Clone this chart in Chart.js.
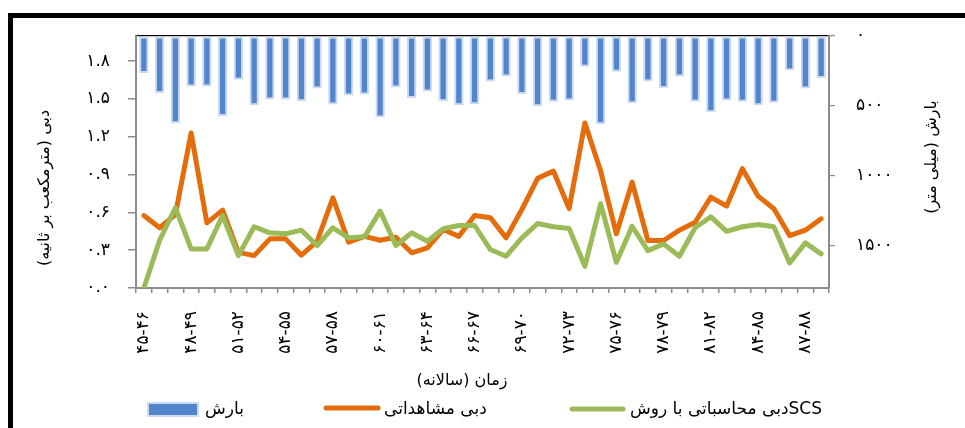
<!DOCTYPE html>
<html><head><meta charset="utf-8">
<script src="https://cdn.jsdelivr.net/npm/chart.js@4.4.0/dist/chart.umd.min.js"></script>
<style>html,body{margin:0;padding:0;background:#fff;overflow:hidden}#wrap{position:relative;width:965px;height:428px}</style>
</head><body><div id="wrap"><canvas id="c" width="965" height="428"></canvas></div>
<script>
const categories = ['۴۵-۴۶','۴۶-۴۷','۴۷-۴۸','۴۸-۴۹','۴۹-۵۰','۵۰-۵۱','۵۱-۵۲','۵۲-۵۳','۵۳-۵۴','۵۴-۵۵','۵۵-۵۶','۵۶-۵۷','۵۷-۵۸','۵۸-۵۹','۵۹-۶۰','۶۰-۶۱','۶۱-۶۲','۶۲-۶۳','۶۳-۶۴','۶۴-۶۵','۶۵-۶۶','۶۶-۶۷','۶۷-۶۸','۶۸-۶۹','۶۹-۷۰','۷۰-۷۱','۷۱-۷۲','۷۲-۷۳','۷۳-۷۴','۷۴-۷۵','۷۵-۷۶','۷۶-۷۷','۷۷-۷۸','۷۸-۷۹','۷۹-۸۰','۸۰-۸۱','۸۱-۸۲','۸۲-۸۳','۸۳-۸۴','۸۴-۸۵','۸۵-۸۶','۸۶-۸۷','۸۷-۸۸','۸۸-۸۹'];
const precipitation = [265,407,623,360,360,572,313,495,453,453,466,375,490,425,417,583,368,442,396,466,495,488,325,290,414,502,470,460,219,630,255,481,325,371,290,470,544,460,470,495,477,247,375,300];
const observedFlow = [0.575,0.478,0.583,1.23,0.517,0.618,0.283,0.257,0.39,0.39,0.26,0.371,0.716,0.363,0.41,0.379,0.403,0.279,0.318,0.464,0.41,0.575,0.557,0.398,0.623,0.87,0.928,0.631,1.31,0.928,0.43,0.84,0.377,0.377,0.459,0.522,0.721,0.65,0.947,0.729,0.629,0.416,0.459,0.549];
const scsFlow = [0.0,0.379,0.637,0.31,0.31,0.575,0.257,0.486,0.438,0.43,0.459,0.337,0.478,0.398,0.406,0.61,0.337,0.438,0.371,0.47,0.496,0.496,0.305,0.252,0.398,0.512,0.486,0.472,0.172,0.669,0.204,0.49,0.297,0.35,0.252,0.478,0.565,0.45,0.486,0.504,0.486,0.199,0.358,0.271];
const leftTickValues = [0, 0.3, 0.6, 0.9, 1.2, 1.5, 1.8];
const leftTickLabels = ['۰.۰','۰.۳','۰.۶','۰.۹','۱.۲','۱.۵','۱.۸'];
const rightTickValues = [0, 500, 1000, 1500];
const rightTickLabels = ['۰','۵۰۰','۱۰۰۰','۱۵۰۰'];
const seriesNames = ['بارش','دبی مشاهداتی','دبی محاسباتی با روشSCS'];
const titleLeft = 'دبی (مترمکعب بر ثانیه)';
const titleRight = 'بارش (میلی متر)';
const titleX = 'زمان (سالانه)';

const FONT = 'DejaVu Sans';
const ORANGE = '#E46C0A', GREEN = '#9BBB59', BLUE = '#5385CC', BLUE_HALO = '#CCDAF0', AXIS = '#8c8c8c';

const decor = {
  id: 'decor',
  beforeDraw(chart) {
    const c = chart.ctx;
    c.save(); c.fillStyle = '#fff'; c.fillRect(0, 0, chart.width, chart.height); c.restore();
  },
  afterDraw(chart) {
    const c = chart.ctx;
    c.save();
    c.fillStyle = '#000';
    c.fillRect(8, 13, 957, 5);
    c.fillRect(8, 13, 5, 415);
    c.textBaseline = 'middle';
    c.font = '16px "' + FONT + '"';
    c.direction = 'rtl';
    c.textAlign = 'center';
    c.save(); c.translate(45, 188); c.rotate(-Math.PI / 2); c.fillText(titleLeft, 0, 0); c.restore();
    c.save(); c.translate(932, 157); c.rotate(-Math.PI / 2); c.fillText(titleRight, 0, 0); c.restore();
    c.fillText(titleX, 462, 381);
    c.direction = 'ltr';
    c.textAlign = 'left';
    c.font = '17px "' + FONT + '"';
    c.fillStyle = BLUE; c.fillRect(148, 403, 50, 13);
    c.strokeStyle = BLUE_HALO; c.lineWidth = 2; c.strokeRect(148, 403, 50, 13);
    c.lineCap = 'round'; c.lineWidth = 5;
    c.strokeStyle = ORANGE; c.beginPath(); c.moveTo(326, 408); c.lineTo(378, 408); c.stroke();
    c.strokeStyle = GREEN; c.beginPath(); c.moveTo(572, 409); c.lineTo(623, 409); c.stroke();
    c.fillStyle = '#000';
    c.fillText(seriesNames[0], 205, 410);
    c.fillText(seriesNames[1], 384, 410);
    c.fillText(seriesNames[2], 630, 410);
    c.restore();
  }
};

new Chart(document.getElementById('c'), {
  data: {
    labels: categories,
    datasets: [
      { type: 'line', label: seriesNames[2], data: scsFlow, yAxisID: 'y', borderColor: GREEN, borderWidth: 5, pointRadius: 0, tension: 0, borderJoinStyle: 'round', borderCapStyle: 'round', order: 0 },
      { type: 'line', label: seriesNames[1], data: observedFlow, yAxisID: 'y', borderColor: ORANGE, borderWidth: 5, pointRadius: 0, tension: 0, borderJoinStyle: 'round', borderCapStyle: 'round', order: 1 },
      { type: 'bar', label: seriesNames[0], data: precipitation, yAxisID: 'y2', backgroundColor: BLUE, borderColor: BLUE_HALO, borderWidth: 2, borderSkipped: false, barPercentage: 0.6, categoryPercentage: 1, order: 2 }
    ]
  },
  options: {
    responsive: false, animation: false, devicePixelRatio: 1,
    layout: { padding: { top: 36, left: 0, right: 0, bottom: 0 } },
    plugins: { legend: { display: false }, tooltip: { enabled: false } },
    scales: {
      x: {
        type: 'category', offset: true,
        grid: { offset: true, drawOnChartArea: false, tickLength: 5, color: AXIS, lineWidth: 1.5 },
        border: { color: AXIS, width: 2 },
        ticks: { autoSkip: false, minRotation: 90, maxRotation: 90, padding: 18, color: '#000', font: { family: FONT, size: 17 },
          callback: (v, i) => (i % 3 === 0 ? categories[i] : '') },
        afterFit: s => { s.height = 140; }
      },
      y: {
        position: 'left', min: 0, max: 2.0,
        ticks: { padding: 18, color: '#000', font: { family: FONT, size: 17 },
          callback: v => leftTickLabels[leftTickValues.findIndex(t => Math.abs(t - v) < 1e-6)] },
        afterBuildTicks: s => { s.ticks = leftTickValues.map(v => ({ value: v })); },
        afterFit: s => { s.width = 136; },
        grid: { drawOnChartArea: false, tickLength: 8, color: AXIS, lineWidth: 1.5 },
        border: { color: AXIS, width: 2 }
      },
      y2: {
        position: 'right', reverse: true, min: 0, max: 1800,
        ticks: { padding: 21, color: '#000', font: { family: FONT, size: 17 },
          callback: v => rightTickLabels[rightTickValues.indexOf(v)] },
        afterBuildTicks: s => { s.ticks = rightTickValues.map(v => ({ value: v })); },
        afterFit: s => { s.width = 136; },
        grid: { drawOnChartArea: true, tickLength: 6, lineWidth: 1.2,
          color: ctx => (ctx.tick && ctx.tick.value === 0 ? '#000' : 'rgba(0,0,0,0)'), tickColor: AXIS },
        border: { color: AXIS, width: 2 }
      }
    }
  },
  plugins: [decor]
});
</script></body></html>
